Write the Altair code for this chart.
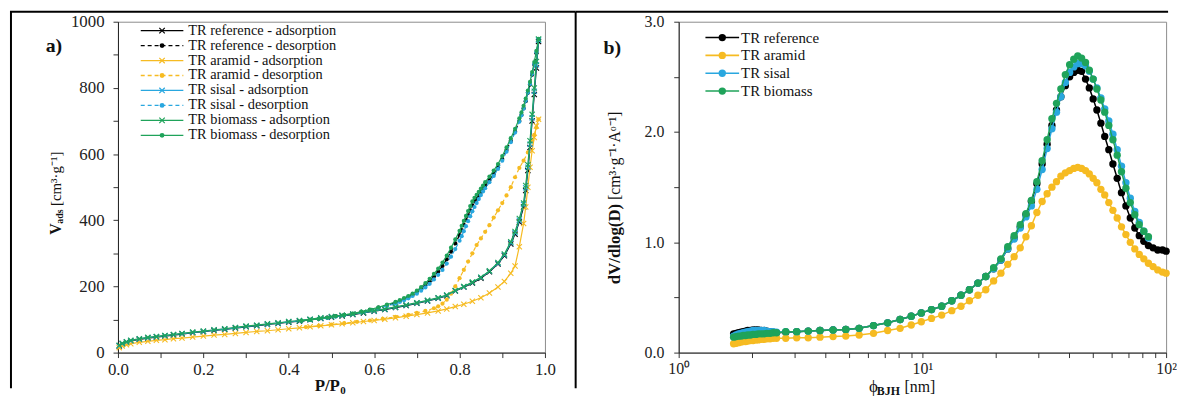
import altair as alt
import pandas as pd

FONT = "Liberation Serif"
C_REF = "#000000"
C_ARA = "#F6BB22"
C_SIS = "#29A7DF"
C_BIO = "#1FA35A"

# ---------------- panel a: N2 isotherms ----------------
P_ADS = [0.003, 0.01, 0.02, 0.03, 0.05, 0.07, 0.09, 0.11, 0.13, 0.15,
         0.175, 0.2, 0.225, 0.25, 0.275, 0.3, 0.325, 0.35, 0.375, 0.4,
         0.425, 0.45, 0.475, 0.5, 0.525, 0.55, 0.575, 0.6, 0.625, 0.65,
         0.675, 0.7, 0.725, 0.75, 0.77, 0.79, 0.81, 0.83, 0.85, 0.87,
         0.89, 0.905, 0.92, 0.93, 0.94, 0.95, 0.955, 0.96, 0.965, 0.97,
         0.975, 0.98, 0.985]
REF_ADS = [20, 26, 31, 35, 40, 44, 47, 50, 53, 56,
           60, 63, 67, 70, 74, 78, 81, 85, 88, 92,
           95, 99, 103, 107, 111, 115, 120, 125, 130, 136,
           142, 149, 156, 164, 172, 186, 198, 210, 225, 244,
           268, 293, 328, 358, 395, 440, 490, 550, 620, 700,
           780, 860, 940]
SIS_ADS = [21, 27, 32, 36, 41, 45, 48, 51, 54, 57,
           61, 64, 68, 71, 75, 79, 82, 86, 89, 93,
           96, 100, 104, 108, 112, 116, 121, 126, 131, 137,
           143, 150, 157, 165, 173, 187, 199, 212, 227, 246,
           270, 296, 332, 362, 400, 448, 498, 560, 630, 710,
           790, 870, 945]
BIO_ADS = [22, 28, 33, 37, 42, 46, 49, 52, 55, 58,
           62, 65, 69, 72, 76, 80, 83, 87, 90, 94,
           97, 101, 105, 109, 113, 117, 122, 127, 132, 138,
           144, 151, 158, 166, 174, 188, 200, 213, 228, 247,
           272, 298, 335, 366, 405, 452, 505, 568, 640, 720,
           800, 880, 948]
ARA_ADS = [15, 20, 24, 27, 31, 34, 37, 39, 42, 44,
           47, 50, 53, 55, 58, 61, 64, 66, 69, 72,
           75, 78, 81, 84, 87, 90, 94, 97, 101, 105,
           110, 115, 120, 126, 132, 139, 146, 155, 166, 180,
           198, 215, 240, 262, 320, 390, 440, 500, 560, 610,
           650, 685, 705]

P_DES = [0.985, 0.98, 0.975, 0.97, 0.965, 0.96, 0.955, 0.95, 0.945, 0.94,
         0.93, 0.92, 0.91, 0.9, 0.89, 0.88, 0.87, 0.86, 0.855, 0.85,
         0.845, 0.84, 0.835, 0.83, 0.825, 0.82, 0.815, 0.81, 0.805, 0.8,
         0.79, 0.78, 0.77, 0.76, 0.75, 0.74, 0.73, 0.72, 0.71, 0.7,
         0.69, 0.68, 0.67, 0.66, 0.65, 0.63, 0.61, 0.59, 0.57, 0.55,
         0.53, 0.51, 0.49, 0.47, 0.45, 0.43]
REF_DES = [940, 905, 870, 840, 810, 785, 760, 738, 718, 700,
           668, 640, 612, 585, 560, 540, 522, 505, 495, 485,
           474, 465, 457, 445, 430, 415, 400, 385, 370, 355,
           330, 305, 282, 262, 245, 230, 216, 204, 193, 183,
           175, 168, 162, 156, 151, 143, 136, 129, 123, 117,
           114, 110, 106, 102, 99, 96]
SIS_DES = [945, 908, 872, 842, 812, 786, 761, 738, 717, 698,
           665, 636, 607, 580, 555, 534, 515, 497, 487, 476,
           464, 452, 440, 427, 412, 397, 382, 367, 352, 338,
           313, 290, 269, 250, 235, 221, 208, 197, 187, 178,
           171, 164, 158, 153, 148, 141, 134, 128, 122, 117,
           113, 109, 105, 102, 99, 96]
BIO_DES = [948, 912, 878, 848, 818, 792, 768, 746, 726, 708,
           676, 648, 620, 594, 570, 550, 532, 515, 505, 496,
           486, 477, 468, 457, 443, 428, 413, 398, 383, 368,
           342, 317, 293, 272, 254, 238, 223, 210, 198, 187,
           178, 171, 165, 159, 153, 145, 137, 130, 124, 118,
           114, 110, 106, 102, 99, 96]
P_DES_ARA = [0.985, 0.98, 0.975, 0.97, 0.96, 0.95, 0.94, 0.93, 0.92, 0.91,
             0.9, 0.89, 0.88, 0.87, 0.86, 0.85, 0.84, 0.83, 0.82, 0.81,
             0.8, 0.79, 0.78, 0.77, 0.76, 0.75, 0.74, 0.72, 0.7, 0.68,
             0.65, 0.62, 0.59, 0.56, 0.53, 0.5, 0.47, 0.44]
ARA_DES = [705, 680, 658, 640, 605, 580, 558, 530, 500, 475,
           452, 430, 408, 385, 365, 345, 325, 300, 275, 250,
           225, 200, 178, 160, 148, 140, 134, 126, 120, 114,
           108, 102, 97, 93, 89, 85, 81, 77]

LEG_A = ["TR reference - adsorption", "TR reference - desorption",
         "TR aramid - adsorption", "TR aramid - desorption",
         "TR sisal - adsorption", "TR sisal - desorption",
         "TR biomass - adsorption", "TR biomass - desorption"]

# ---------------- panel b: BJH pore size distribution ----------------
D_NM = [1.68, 1.72, 1.76, 1.80, 1.84, 1.88, 1.92, 1.97, 2.02, 2.07,
        2.12, 2.18, 2.24, 2.30, 2.37, 2.44, 2.52, 2.75, 3.05, 3.4,
        3.8, 4.3, 4.85, 5.5, 6.3, 7.2, 8.1, 9.0, 9.9, 10.9,
        12.0, 13.2, 14.4, 15.6, 16.9, 18.2, 19.6, 21.0, 22.4, 23.8,
        25.2, 26.6, 28.0, 29.5, 31.0, 32.5, 34.0, 35.5, 37.0, 38.6,
        40.2, 41.8, 43.4, 45.0, 46.7, 48.4, 50.2, 52.0, 54.0, 56.0,
        58.2, 60.5, 63.0, 65.6, 68.4, 71.3, 74.4, 77.6, 81.0, 84.6,
        88.4, 92.4, 96.6, 100.0]
REF_PSD = [0.17, 0.175, 0.18, 0.185, 0.19, 0.195, 0.2, 0.2, 0.205, 0.205,
           0.205, 0.2, 0.2, 0.195, 0.19, 0.185, 0.18, 0.185, 0.19, 0.195,
           0.2, 0.205, 0.21, 0.22, 0.245, 0.27, 0.30, 0.33, 0.36, 0.39,
           0.42, 0.47, 0.52, 0.57, 0.63, 0.69, 0.76, 0.84, 0.94, 1.04,
           1.14, 1.25, 1.37, 1.53, 1.71, 1.89, 2.06, 2.20, 2.32, 2.42,
           2.50, 2.54, 2.56, 2.55, 2.48, 2.40, 2.30, 2.20, 2.08, 1.96,
           1.84, 1.71, 1.58, 1.45, 1.33, 1.22, 1.13, 1.06, 1.01, 0.97,
           0.95, 0.93, 0.93, 0.92]
SIS_PSD = [0.15, 0.16, 0.17, 0.175, 0.18, 0.185, 0.19, 0.195, 0.2, 0.2,
           0.2, 0.2, 0.2, 0.195, 0.19, 0.19, 0.185, 0.19, 0.19, 0.195,
           0.2, 0.205, 0.21, 0.22, 0.245, 0.27, 0.30, 0.33, 0.36, 0.39,
           0.42, 0.47, 0.52, 0.57, 0.63, 0.69, 0.76, 0.84, 0.94, 1.03,
           1.13, 1.23, 1.33, 1.48, 1.66, 1.85, 2.03, 2.18, 2.32, 2.45,
           2.54, 2.59, 2.62, 2.62, 2.60, 2.55, 2.48, 2.40, 2.31, 2.21,
           2.10, 1.98, 1.84, 1.69, 1.54, 1.40, 1.28, 1.18, 1.10, 1.04]
BIO_PSD = [0.14, 0.145, 0.15, 0.15, 0.155, 0.155, 0.16, 0.16, 0.165, 0.165,
           0.17, 0.17, 0.17, 0.175, 0.175, 0.18, 0.18, 0.19, 0.19, 0.195,
           0.2, 0.205, 0.21, 0.22, 0.245, 0.27, 0.30, 0.33, 0.36, 0.39,
           0.42, 0.47, 0.52, 0.57, 0.63, 0.69, 0.77, 0.85, 0.96, 1.06,
           1.16, 1.26, 1.38, 1.55, 1.74, 1.93, 2.12, 2.26, 2.39, 2.52,
           2.61, 2.66, 2.69, 2.67, 2.63, 2.56, 2.48, 2.39, 2.29, 2.18,
           2.06, 1.93, 1.79, 1.64, 1.49, 1.36, 1.25, 1.16, 1.10, 1.05]
ARA_PSD = [0.08, 0.085, 0.09, 0.095, 0.1, 0.1, 0.105, 0.11, 0.11, 0.115,
           0.115, 0.12, 0.12, 0.125, 0.125, 0.13, 0.13, 0.13, 0.135, 0.135,
           0.14, 0.145, 0.15, 0.16, 0.175, 0.2, 0.22, 0.25, 0.28, 0.31,
           0.34, 0.38, 0.42, 0.47, 0.52, 0.57, 0.65, 0.72, 0.80, 0.87,
           0.95, 1.05, 1.15, 1.27, 1.37, 1.44, 1.50, 1.55, 1.60, 1.63,
           1.65, 1.67, 1.68, 1.67, 1.65, 1.62, 1.58, 1.54, 1.48, 1.43,
           1.36, 1.29, 1.22, 1.14, 1.07, 1.00, 0.94, 0.89, 0.85, 0.81,
           0.78, 0.75, 0.73, 0.72]

LEG_B = ["TR reference", "TR aramid", "TR sisal", "TR biomass"]

CROSS = "M-1,-1L1,1M-1,1L1,-1"
ONE = pd.DataFrame({"k": [0]})


def txt(s, x, y, size=15, weight="normal", angle=0, align="left", color="#111"):
    kw = dict(text=s, font=FONT, fontSize=size, fontWeight=weight,
              align=align, baseline="middle", color=color)
    if angle:
        kw["angle"] = angle
    return alt.Chart(ONE).mark_text(**kw).encode(x=alt.value(x), y=alt.value(y))


def rule(x1, y1, x2, y2, color="black", width=2, dash=None):
    kw = dict(color=color, strokeWidth=width)
    if dash:
        kw["strokeDash"] = dash
    return alt.Chart(ONE).mark_rule(**kw).encode(
        x=alt.value(x1), x2=alt.value(x2), y=alt.value(y1), y2=alt.value(y2))


def axis(values, expr, pad, size):
    return alt.Axis(values=values, labelExpr=expr, title=None, grid=False, tickSize=5,
                    labelPadding=pad, labelFont=FONT, labelFontSize=size,
                    labelColor="#222", domainColor="#222", tickColor="#333",
                    labelOverlap=False, labelFlush=False, labelBound=False)


# ---------- panel a ----------
AX_XA = axis([round(i * 0.1, 1) for i in range(11)],
             "round(datum.value*10) % 2 == 0 ? format(datum.value, '.1f') : ''", 4, 17)
AX_YA = axis(list(range(0, 1001, 100)),
             "datum.value % 200 == 0 ? format(datum.value, 'd') : ''", 9, 17)
XA = alt.X("p:Q", scale=alt.Scale(domain=[0, 1], nice=False, zero=False), axis=AX_XA)
YA = alt.Y("v:Q", scale=alt.Scale(domain=[0, 1000], nice=False), axis=AX_YA)


def iso(P, V, color, dashed, cross):
    df = pd.DataFrame({"p": P, "v": V})
    lk = dict(color=color, strokeWidth=1.2)
    if dashed:
        lk["strokeDash"] = [4, 3]
    line = alt.Chart(df).mark_line(**lk).encode(x=XA, y=YA)
    if cross:
        pts = alt.Chart(df).mark_point(shape=CROSS, filled=False, size=28,
                                       strokeWidth=1.1, color=color, opacity=1).encode(x=XA, y=YA)
    else:
        pts = alt.Chart(df).mark_circle(size=18, color=color, opacity=1).encode(x=XA, y=YA)
    return [line, pts]


layers_a = []
for P, V, c, dsh, cr in [
    (P_ADS, REF_ADS, C_REF, False, True), (P_DES, REF_DES, C_REF, True, False),
    (P_ADS, ARA_ADS, C_ARA, False, True), (P_DES_ARA, ARA_DES, C_ARA, True, False),
    (P_ADS, SIS_ADS, C_SIS, False, True), (P_DES, SIS_DES, C_SIS, True, False),
    (P_ADS, BIO_ADS, C_BIO, False, True), (P_DES, BIO_DES, C_BIO, False, False),
]:
    layers_a += iso(P, V, c, dsh, cr)

leg_style_a = [(C_REF, False, True), (C_REF, True, False), (C_ARA, False, True), (C_ARA, True, False),
               (C_SIS, False, True), (C_SIS, True, False), (C_BIO, False, True), (C_BIO, False, False)]
for i, (lab, (c, dsh, cr)) in enumerate(zip(LEG_A, leg_style_a)):
    yy = 9 + i * 15.1
    layers_a.append(rule(23, yy, 66, yy, color=c, width=1.3, dash=[4, 3] if dsh else None))
    if cr:
        layers_a.append(alt.Chart(ONE).mark_point(shape=CROSS, filled=False, size=30, strokeWidth=1.2,
                                                  color=c, opacity=1).encode(x=alt.value(44.5), y=alt.value(yy)))
    else:
        layers_a.append(alt.Chart(ONE).mark_circle(size=24, color=c, opacity=1).encode(
            x=alt.value(44.5), y=alt.value(yy)))
    layers_a.append(txt(lab, 71, yy, size=14.5))

# titles & labels (panel a)
layers_a += [
    txt("a)", -73, 25, size=20, weight="bold"),
    txt("P/P", 224, 368, size=17, weight="bold", align="right"),
    txt("0", 224.5, 373, size=11, weight="bold"),
    txt("V", -62, 215, size=16, weight="bold", angle=270),
    txt("ads", -58, 204, size=10, weight="bold", angle=270),
    txt("[cm³·g⁻¹]", -62, 186, size=15, angle=270),
    # table frame
    rule(-108, -10, -108, 370),
    rule(-109, -10, 462, -10),
    rule(462, -10, 462, 370),
]
panel_a = alt.layer(*layers_a).properties(width=431, height=334)

# ---------- panel b ----------
AX_XB = axis([1, 2, 3, 4, 5, 6, 7, 8, 9, 10, 20, 30, 40, 50, 60, 70, 80, 90, 100],
             "datum.value == 1 ? '10⁰' : datum.value == 10 ? '10¹' : datum.value == 100 ? '10²' : ''", 3, 16)
AX_YB = axis([0, 0.5, 1, 1.5, 2, 2.5, 3],
             "datum.value % 1 == 0 ? format(datum.value, '.1f') : ''", 10, 16)
XB = alt.X("d:Q", scale=alt.Scale(type="log", domain=[1, 100], nice=False), axis=AX_XB)
YB = alt.Y("y:Q", scale=alt.Scale(domain=[0, 3], nice=False), axis=AX_YB)

layers_b = []
for Y, c in [(REF_PSD, C_REF), (ARA_PSD, C_ARA), (SIS_PSD, C_SIS), (BIO_PSD, C_BIO)]:
    df = pd.DataFrame({"d": D_NM[:len(Y)], "y": Y})
    layers_b.append(alt.Chart(df).mark_line(color=c, strokeWidth=1.5).encode(x=XB, y=YB))
    layers_b.append(alt.Chart(df).mark_circle(size=55, color=c, opacity=1).encode(x=XB, y=YB))

for i, (lab, c) in enumerate(zip(LEG_B, [C_REF, C_ARA, C_SIS, C_BIO])):
    yy = 16 + i * 18
    layers_b.append(rule(27, yy, 61, yy, color=c, width=1.6))
    layers_b.append(alt.Chart(ONE).mark_circle(size=55, color=c, opacity=1).encode(
        x=alt.value(44), y=alt.value(yy)))
    layers_b.append(txt(lab, 63, yy, size=15))

layers_b += [
    txt("b)", -76, 27, size=20, weight="bold"),
    txt("ϕ", 192, 369, size=17),
    txt("BJH", 200, 373, size=12, weight="bold"),
    txt("[nm]", 228, 369, size=16),
    txt("dV/dlog(D)", -64, 265, size=17, weight="bold", angle=270),
    txt("[cm³·g⁻¹·Aᵒ⁻¹]", -64, 180, size=16, angle=270),
    rule(-104, -10, 494, -10),
]
panel_b = alt.layer(*layers_b).properties(width=492, height=334)

chart = alt.hconcat(panel_a, panel_b, spacing=135, bounds="flush", padding=0).configure_view(
    stroke="#8c8c8c", strokeWidth=1)

chart.save("out.html", embed_options={"renderer": "svg", "actions": False})
